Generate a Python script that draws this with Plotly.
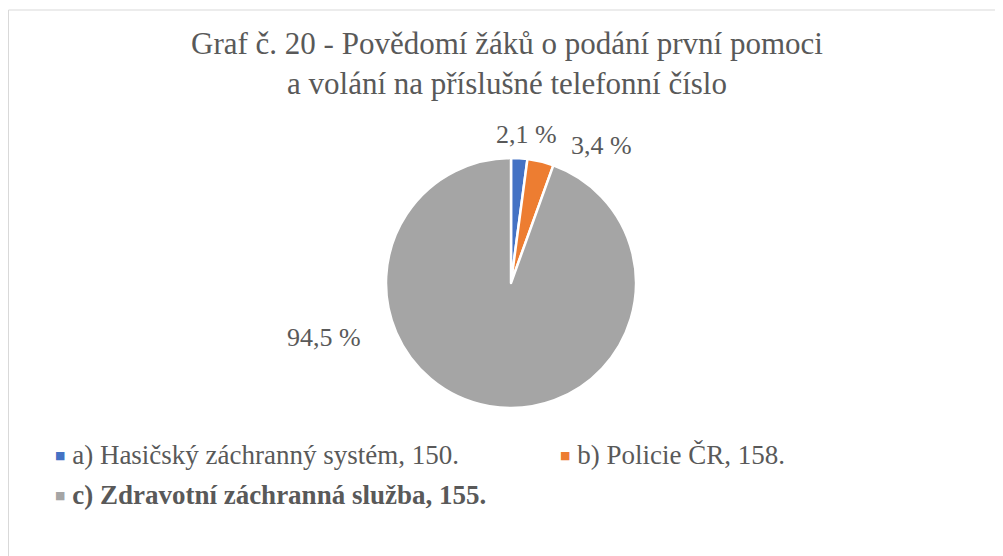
import plotly.graph_objects as go

# Data
categories = [
    "a) Hasičský záchranný systém, 150.",
    "b) Policie ČR, 158.",
    "c) Zdravotní záchranná služba, 155.",
]
percent_values = [2.1, 3.4, 94.5]
colors = ["#4472C4", "#ED7D31", "#A5A5A5"]
bold_category = [False, False, True]
title_lines = [
    "Graf č. 20 - Povědomí žáků o podání první pomoci",
    "a volání na příslušné telefonní číslo",
]

W, H = 1003, 556
OFF = 8  # browser body margin: page pixel = figure pixel + OFF
FONT = "Liberation Serif"
TEXT_COLOR = "#595959"


def px_x(x):
    """page pixel -> paper x"""
    return (x - OFF) / W


def px_y(y):
    """page pixel -> paper y"""
    return 1 - (y - OFF) / H


# pie placement (page pixels)
cx, cy, r = 511, 283, 125

fig = go.Figure(
    go.Pie(
        labels=categories,
        values=percent_values,
        marker=dict(colors=colors, line=dict(color="white", width=2.5)),
        sort=False,
        direction="clockwise",
        rotation=0,
        textinfo="none",
        hoverinfo="label+percent",
        showlegend=False,
        domain=dict(x=[px_x(cx - r), px_x(cx + r)], y=[px_y(cy + r), px_y(cy - r)]),
    )
)

# data labels (page pixel centres)
label_pos = [(526, 134), (601, 145), (324, 337)]
for v, (lx, ly) in zip(percent_values, label_pos):
    fig.add_annotation(
        text=f"{v:.1f}".replace(".", ",") + " %",
        x=px_x(lx), y=px_y(ly), xref="paper", yref="paper",
        xanchor="center", yanchor="middle", showarrow=False,
        font=dict(family=FONT, size=26, color=TEXT_COLOR),
    )

# legend entries (page pixel left / centre)
legend_pos = [(53, 455), (558, 455), (53, 495)]
for cat, col, b, (lx, ly) in zip(categories, colors, bold_category, legend_pos):
    label = f"<b>{cat}</b>" if b else cat
    fig.add_annotation(
        text=(f'<span style="color:{col};font-size:11px;font-family:DejaVu Sans;'
              f'baseline-shift:5px">■</span> {label}'),
        x=px_x(lx), y=px_y(ly), xref="paper", yref="paper",
        xanchor="left", yanchor="middle", showarrow=False,
        font=dict(family=FONT, size=27, color=TEXT_COLOR),
    )

# chart border
fig.add_shape(
    type="rect", xref="paper", yref="paper",
    x0=0.5 / W, x1=1.02, y0=-0.02, y1=1 - 2 / H,
    line=dict(color="#D9D9D9", width=1), fillcolor="rgba(0,0,0,0)", layer="below",
)

fig.update_layout(
    width=W, height=H,
    margin=dict(l=0, r=0, t=0, b=0),
    paper_bgcolor="white", plot_bgcolor="white",
    showlegend=False,
    title=dict(
        text="<br>".join(title_lines),
        x=px_x(507), xanchor="center",
        y=px_y(54), yanchor="middle", yref="container",
        font=dict(family=FONT, size=31, color=TEXT_COLOR),
    ),
)

fig.write_html("out.html")
